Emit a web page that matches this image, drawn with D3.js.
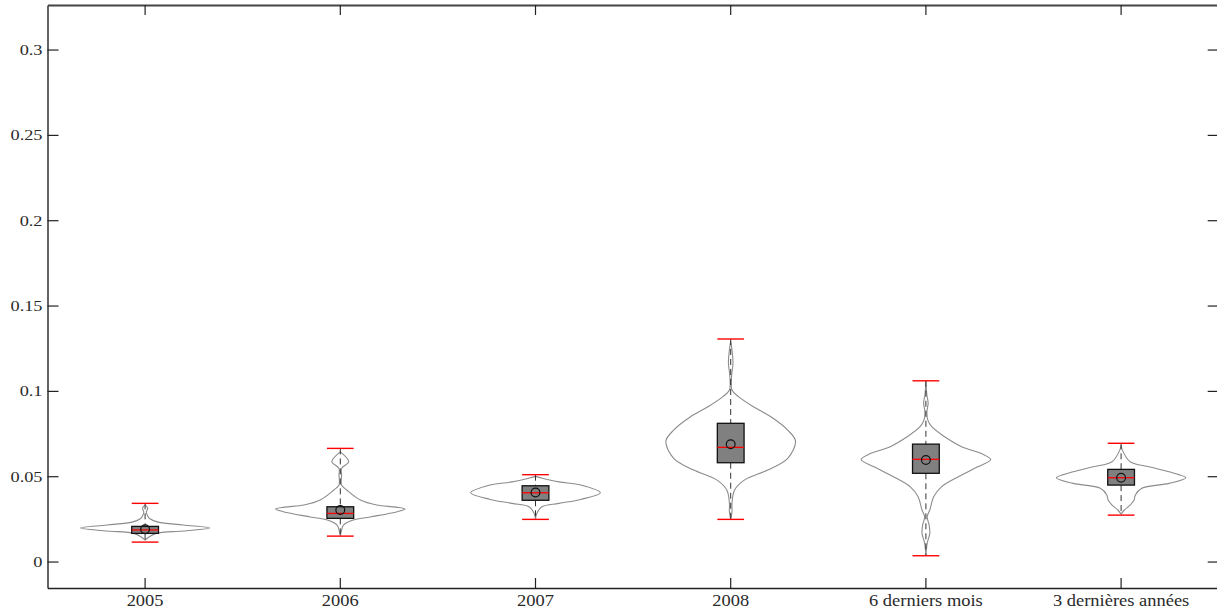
<!DOCTYPE html>
<html>
<head>
<meta charset="utf-8">
<script src="https://cdn.jsdelivr.net/npm/d3@7"></script>
<style>
  html, body { margin: 0; padding: 0; background: #fff; }
  svg { display: block; }
  .lbl { font-family: "Liberation Serif", "Times New Roman", serif; fill: #2a2a2a; }
</style>
</head>
<body>
<svg id="chart" width="1217" height="614"></svg>
<script>
// ---------- DATA ----------
const categories = ["2005", "2006", "2007", "2008", "6 derniers mois", "3 dernières années"];
const yTicks = [0, 0.05, 0.1, 0.15, 0.2, 0.25, 0.3];
const yTickLabels = ["0", "0.05", "0.1", "0.15", "0.2", "0.25", "0.3"];
const yDomain = [-0.0155, 0.3261];

const whiskerLow  = [0.0114, 0.0149, 0.0247, 0.0247, 0.0034, 0.0272];
const whiskerHigh = [0.0341, 0.0663, 0.0509, 0.1304, 0.1059, 0.0693];
const q1          = [0.0165, 0.0253, 0.0359, 0.0579, 0.0517, 0.0448];
const q3          = [0.0206, 0.0321, 0.0444, 0.0810, 0.0688, 0.0540];
const medians     = [0.0185, 0.0282, 0.0403, 0.0669, 0.0599, 0.0491];
const means       = [0.0189, 0.0302, 0.0405, 0.0687, 0.0595, 0.0491];

// violin outlines: value levels and relative density (max = 1)
const violinLevels2005  = [0.0331, 0.0313, 0.029, 0.0267, 0.0249, 0.0231, 0.0214, 0.0196, 0.0179, 0.0165, 0.0144, 0.0126];
const violinDensity2005 = [0, 0.04, 0.02, 0.04, 0.08, 0.2, 0.59, 1, 0.59, 0.17, 0.06, 0];

const violinLevels2006  = [0.0643, 0.0585, 0.0546, 0.0507, 0.0448, 0.0419, 0.036, 0.0331, 0.0319, 0.0308, 0.0292, 0.0261, 0.0243, 0.0214, 0.0185, 0.015];
const violinDensity2006 = [0, 0.13, 0.02, 0.02, 0.02, 0.1, 0.31, 0.56, 0.86, 1, 0.88, 0.46, 0.2, 0.05, 0.02, 0];

const violinLevels2007  = [0.0499, 0.0489, 0.0467, 0.0448, 0.0403, 0.0364, 0.0341, 0.0321, 0.0282, 0.0249];
const violinDensity2007 = [0, 0.1, 0.36, 0.7, 1, 0.7, 0.36, 0.1, 0.02, 0];

const violinLevels2008  = [0.1292, 0.1239, 0.1163, 0.1093, 0.1005, 0.0966, 0.0907, 0.0848, 0.077, 0.0706, 0.0605, 0.0536, 0.0477, 0.0419, 0.0343, 0.029, 0.0249];
const violinDensity2008 = [0, 0.02, 0.035, 0.015, 0.02, 0.12, 0.35, 0.62, 0.88, 1, 0.88, 0.57, 0.21, 0.06, 0.02, 0.02, 0];

const violinLevels6m    = [0.1058, 0.0976, 0.0929, 0.0876, 0.0829, 0.079, 0.0731, 0.0673, 0.0634, 0.0598, 0.0555, 0.0497, 0.0438, 0.038, 0.0302, 0.0262, 0.0214, 0.0165, 0.0108, 0.0038];
const violinDensity6m   = [0, 0.015, 0.035, 0.015, 0.03, 0.09, 0.29, 0.55, 0.85, 1, 0.8, 0.5, 0.24, 0.12, 0.06, 0.02, 0.05, 0.06, 0.02, 0];

const violinLevels3y    = [0.0683, 0.0653, 0.0585, 0.0555, 0.0526, 0.0491, 0.0458, 0.0429, 0.039, 0.036, 0.0331, 0.0302, 0.0278];
const violinDensity3y   = [0, 0.02, 0.14, 0.43, 0.74, 1, 0.74, 0.32, 0.22, 0.2, 0.14, 0.05, 0];

const violinLevels  = [violinLevels2005, violinLevels2006, violinLevels2007, violinLevels2008, violinLevels6m, violinLevels3y];
const violinDensity = [violinDensity2005, violinDensity2006, violinDensity2007, violinDensity2008, violinDensity6m, violinDensity3y];

// ---------- LAYOUT ----------
const plotLeft = 47.5, plotTop = 5, plotRight = 1218.7, plotBottom = 588;
const svg = d3.select("#chart");

const x = d3.scaleBand().domain(categories).range([plotLeft, plotRight]).padding(0);
const y = d3.scaleLinear().domain(yDomain).range([plotBottom, plotTop]);
const bw = x.bandwidth();
const cx = c => x(c) + bw / 2;
const halfW = d3.scaleLinear().domain([0, 1]).range([0, bw * 0.332]);
const boxHalf = bw * 0.0685;

const plot = svg.append("g");

const area = d3.area()
  .x0(d => d.cx - halfW(d.d))
  .x1(d => d.cx + halfW(d.d))
  .y(d => y(d.v))
  .curve(d3.curveCatmullRom.alpha(0.5));

categories.forEach((c, i) => {
  const pts = violinLevels[i].map((v, k) => ({ v, d: violinDensity[i][k], cx: cx(c) }));
  plot.append("path")
    .attr("d", area(pts))
    .attr("fill", "none")
    .attr("stroke", "#8c8c8c")
    .attr("stroke-width", 1.1);
});

categories.forEach((c, i) => {
  [[whiskerHigh[i], q3[i]], [q1[i], whiskerLow[i]]].forEach(([a, b]) => {
    plot.append("line")
      .attr("x1", cx(c)).attr("x2", cx(c))
      .attr("y1", y(a)).attr("y2", y(b))
      .attr("stroke", "#333")
      .attr("stroke-width", 1)
      .attr("stroke-dasharray", "6,4");
  });
});

categories.forEach((c, i) => {
  plot.append("rect")
    .attr("x", cx(c) - boxHalf)
    .attr("y", y(q3[i]))
    .attr("width", boxHalf * 2)
    .attr("height", y(q1[i]) - y(q3[i]))
    .attr("fill", "#808080")
    .attr("stroke", "#111")
    .attr("stroke-width", 1.3);
  plot.append("line")
    .attr("x1", cx(c) - boxHalf).attr("x2", cx(c) + boxHalf)
    .attr("y1", y(medians[i])).attr("y2", y(medians[i]))
    .attr("stroke", "#ff0000")
    .attr("stroke-width", 1.3);
  plot.append("circle")
    .attr("cx", cx(c)).attr("cy", y(means[i]))
    .attr("r", 4.4)
    .attr("fill", "none")
    .attr("stroke", "#111")
    .attr("stroke-width", 1.2);
  [whiskerLow[i], whiskerHigh[i]].forEach(v => {
    plot.append("line")
      .attr("x1", cx(c) - boxHalf).attr("x2", cx(c) + boxHalf)
      .attr("y1", y(v)).attr("y2", y(v))
      .attr("stroke", "#ff0000")
      .attr("stroke-width", 1.4);
  });
});

// ---------- AXES ----------
function styleAxis(g) {
  g.attr("font-family", null);
  g.select(".domain").attr("stroke", "#222").attr("stroke-width", 1.4);
  g.selectAll(".tick line").attr("stroke", "#222").attr("stroke-width", 1.2);
}

const yAxis = svg.append("g")
  .attr("transform", `translate(${plotLeft},0)`)
  .call(d3.axisLeft(y).tickValues(yTicks).tickFormat((d, i) => yTickLabels[i])
    .tickSizeInner(-11).tickSizeOuter(0).tickPadding(5));
styleAxis(yAxis);
yAxis.selectAll("text")
  .attr("class", "lbl")
  .attr("x", 0)
  .attr("transform", "translate(-5,0) scale(1.22,1)")
  .style("font-size", "15px");

const yAxisR = svg.append("g")
  .attr("transform", `translate(${plotRight},0)`)
  .call(d3.axisRight(y).tickValues(yTicks).tickFormat("")
    .tickSizeInner(-11).tickSizeOuter(0));
styleAxis(yAxisR);

const xAxis = svg.append("g")
  .attr("transform", `translate(0,${plotBottom})`)
  .call(d3.axisBottom(x).tickSizeInner(-10).tickSizeOuter(0).tickPadding(6));
styleAxis(xAxis);
xAxis.selectAll("text")
  .attr("class", "lbl")
  .attr("y", 0)
  .attr("transform", "translate(0,6) scale(1.12,1)")
  .style("font-size", "16.5px");

const xAxisT = svg.append("g")
  .attr("transform", `translate(0,${plotTop})`)
  .call(d3.axisTop(x).tickFormat("").tickSizeInner(-10).tickSizeOuter(0));
styleAxis(xAxisT);
xAxisT.select(".domain").attr("stroke", "#444").attr("stroke-width", 2);
</script>
</body>
</html>
